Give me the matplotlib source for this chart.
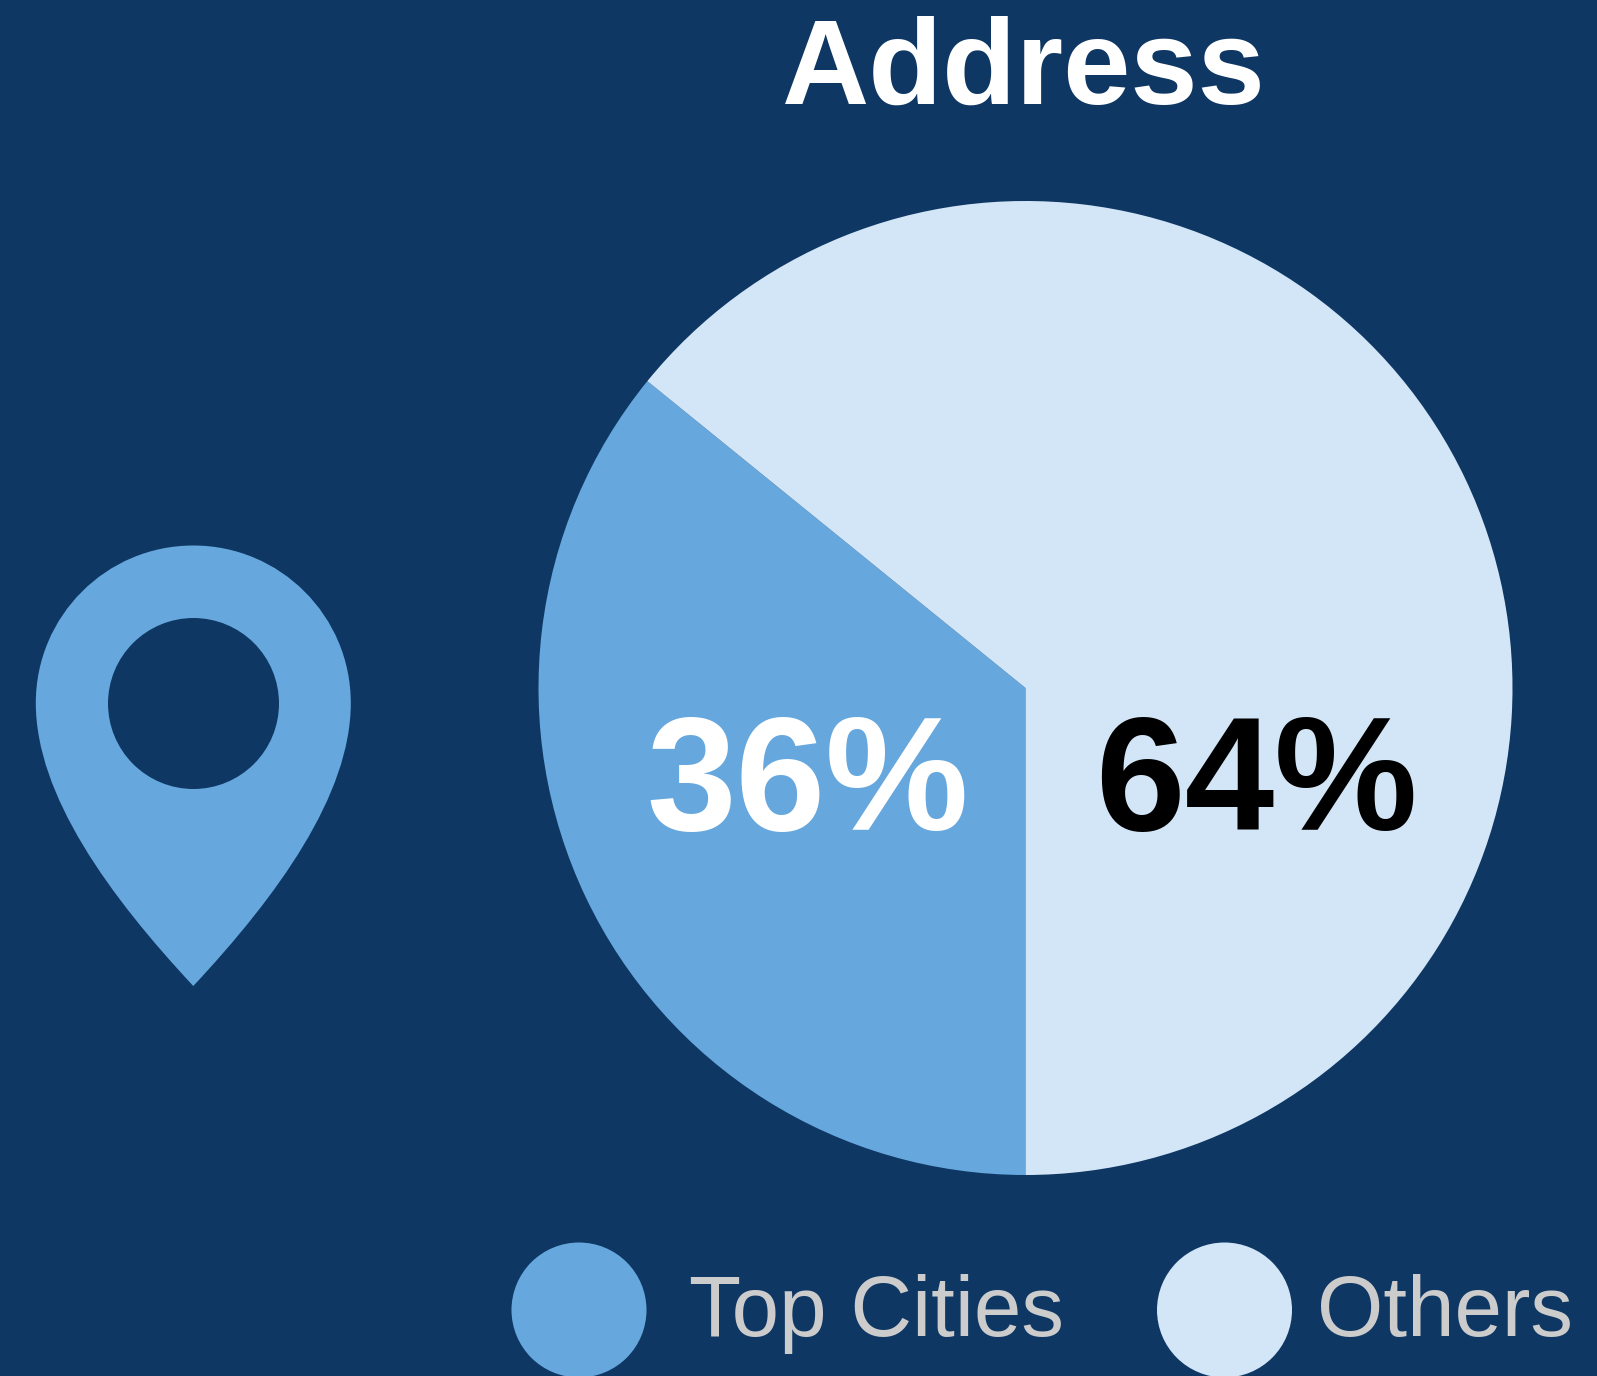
# plot.py
# Address pie chart: top cities vs others, with a map pin on the left

import matplotlib
matplotlib.use("Agg")
import matplotlib.pyplot as plt
from matplotlib.patches import PathPatch
from matplotlib.path import Path

plt.rcParams['font.family'] = ['Liberation Sans', 'DejaVu Sans']

# data
categories = ["Top Cities", "Others"]
shares = [35.85, 64.15]
share_labels = ["36%", "64%"]
title = "Address"

# colours
BG = "#0F3764"
BLUE = "#66A8DE"
PALE = "#D2E6F7"
GREY = "#CCCCCC"

W, H = 1597, 1376
fig = plt.figure(figsize=(W / 100, H / 100), dpi=100, facecolor=BG)

# full-figure axes in pixel units, y pointing down, for the text and the pin
top_ax = fig.add_axes([0, 0, 1, 1])
top_ax.set_xlim(0, W)
top_ax.set_ylim(H, 0)
top_ax.axis("off")
top_ax.set_zorder(2)

# pie
cx, cy, r = 1025.5, 688, 487
pie_ax = fig.add_axes([(cx - r) / W, 1 - (cy + r) / H, 2 * r / W, 2 * r / H])
pie_ax.pie(shares, colors=[BLUE, PALE], startangle=270, counterclock=False,
           radius=1, wedgeprops={"linewidth": 0})
pie_ax.set_xlim(-1, 1)
pie_ax.set_ylim(-1, 1)

# title and percent labels
top_ax.text(1024, 104, title, color="white", fontsize=87, fontweight="bold",
            ha="center", va="baseline")
top_ax.text(808, 830, share_labels[0], color="white", fontsize=116,
            fontweight="bold", ha="center", va="baseline")
top_ax.text(1256, 830, share_labels[1], color="black", fontsize=116,
            fontweight="bold", ha="center", va="baseline")

# map pin
pcx, pcy = 193.3, 703
R, hole = 157.5, 85.5
k = 0.5523
verts = [
    (pcx, pcy - R),
    (pcx + k * R, pcy - R), (pcx + R, pcy - k * R), (pcx + R, pcy),
    (pcx + R, pcy + 92), (pcx + 84, pcy + 193), (pcx, pcy + 283),
    (pcx - 84, pcy + 193), (pcx - R, pcy + 92), (pcx - R, pcy),
    (pcx - R, pcy - k * R), (pcx - k * R, pcy - R), (pcx, pcy - R),
    (pcx, pcy - R),
]
codes = [Path.MOVETO] + [Path.CURVE4] * 12 + [Path.CLOSEPOLY]
top_ax.add_patch(PathPatch(Path(verts, codes), facecolor=BLUE, edgecolor="none"))
top_ax.scatter([pcx], [pcy], s=(2 * hole * 0.72) ** 2, color=BG, linewidths=0, zorder=3)

# legend
top_ax.scatter([579, 1224.5], [1310, 1310], s=(2 * 67.5 * 0.72) ** 2,
               color=[BLUE, PALE], linewidths=0, clip_on=False)
top_ax.text(689, 1336, categories[0], color=GREY, fontsize=61.5, ha="left", va="baseline")
top_ax.text(1317, 1336, categories[1], color=GREY, fontsize=61.5, ha="left", va="baseline")

fig.savefig("out.png", dpi=100, facecolor=BG)
